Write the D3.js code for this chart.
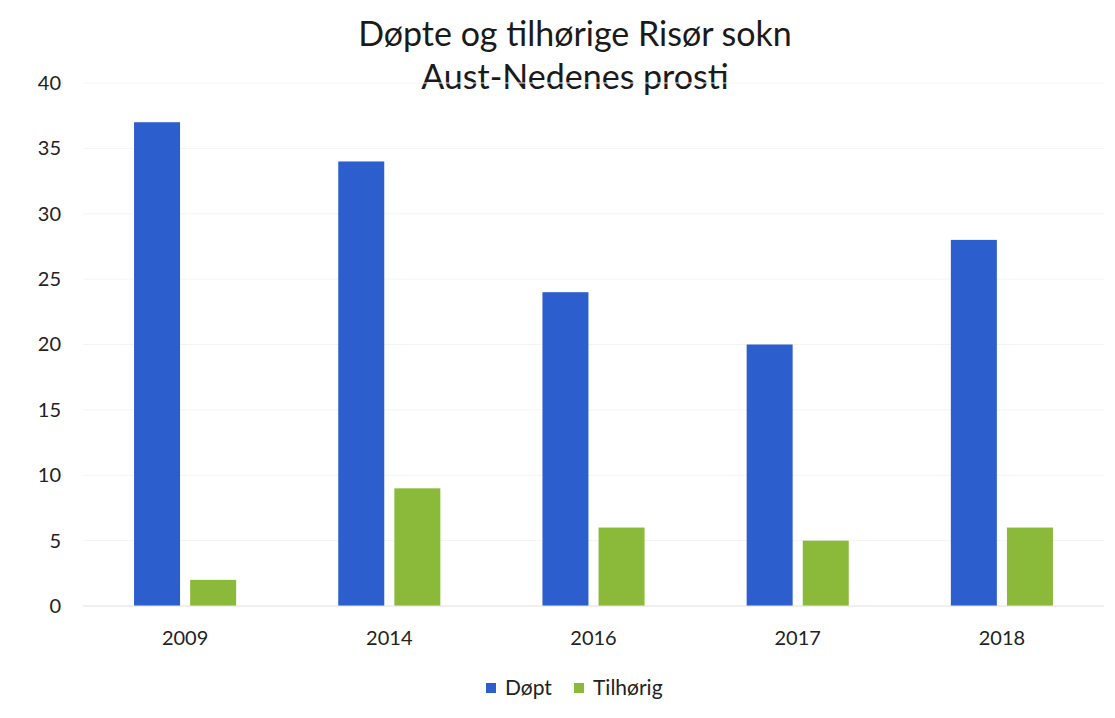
<!DOCTYPE html>
<html>
<head>
<meta charset="utf-8">
<script src="https://cdn.jsdelivr.net/npm/d3@7"></script>
<style>
  body { margin: 0; background: #fff; }
  svg { font-family: Lato, "Open Sans", sans-serif; }
</style>
</head>
<body>
<div id="chart"></div>
<script>
var years = ['2009', '2014', '2016', '2017', '2018'];
var seriesNames = ['Døpt', 'Tilhørig'];
var dopt = [37, 34, 24, 20, 28];
var tilhorig = [2, 9, 6, 5, 6];
var yTicks = [0, 5, 10, 15, 20, 25, 30, 35, 40];
var colors = ['#2c5fcd', '#8bba3b'];

var width = 1115, height = 718;
var plotLeft = 83, plotRight = 1104, plotTop = 83, plotBottom = 606;

var svg = d3.select('#chart').append('svg')
  .attr('width', width).attr('height', height);

var x0 = d3.scaleBand().domain(years).range([plotLeft, plotRight]);
var x1 = d3.scaleBand().domain(seriesNames).range([0, x0.bandwidth()])
  .paddingInner(0.18).paddingOuter(0.91);
var y = d3.scaleLinear().domain([0, 40]).range([plotBottom, plotTop]);

// title
svg.append('text').attr('x', 575).attr('y', 46).attr('text-anchor', 'middle')
  .attr('font-size', 34).attr('fill', '#1a1a1a').text('Døpte og tilhørige Risør sokn');
svg.append('text').attr('x', 575).attr('y', 89).attr('text-anchor', 'middle')
  .attr('font-size', 34).attr('fill', '#1a1a1a').text('Aust-Nedenes prosti');

// gridlines
svg.append('g').selectAll('line').data(yTicks.filter(function(d){ return d > 0; }))
  .enter().append('line')
  .attr('x1', plotLeft).attr('x2', plotRight)
  .attr('y1', function(d){ return y(d); }).attr('y2', function(d){ return y(d); })
  .attr('stroke', '#f4f4f4').attr('stroke-width', 1);

// y axis
var yAxis = svg.append('g').attr('transform', 'translate(61,0)')
  .call(d3.axisLeft(y).tickValues(yTicks).tickSize(0).tickPadding(0));
yAxis.select('.domain').remove();
yAxis.selectAll('text').attr('font-size', 20).attr('fill', '#222')
  .attr('font-family', 'Lato, "Open Sans", sans-serif');

// bars
var rows = years.map(function(yr, i){
  return { year: yr, values: [dopt[i], tilhorig[i]] };
});
var groups = svg.append('g').selectAll('g').data(rows).enter().append('g')
  .attr('transform', function(d){ return 'translate(' + x0(d.year) + ',0)'; });
groups.selectAll('rect').data(function(d){
    return d.values.map(function(v, j){ return { name: seriesNames[j], value: v, i: j }; });
  })
  .enter().append('rect')
  .attr('x', function(d){ return x1(d.name); })
  .attr('width', x1.bandwidth())
  .attr('y', function(d){ return y(d.value); })
  .attr('height', function(d){ return y(0) - y(d.value); })
  .attr('fill', function(d){ return colors[d.i]; });

// baseline
svg.append('line').attr('x1', plotLeft).attr('x2', plotRight)
  .attr('y1', y(0)).attr('y2', y(0))
  .attr('stroke', '#e0e0e0').attr('stroke-width', 1);

// x axis
var xAxis = svg.append('g').attr('transform', 'translate(0,' + plotBottom + ')')
  .call(d3.axisBottom(x0).tickSize(0).tickPadding(25));
xAxis.select('.domain').remove();
xAxis.selectAll('text').attr('font-size', 20).attr('fill', '#222')
  .attr('font-family', 'Lato, "Open Sans", sans-serif');

// legend
var legendX = [486, 574];
var legend = svg.append('g').selectAll('g').data(seriesNames).enter().append('g')
  .attr('transform', function(d, i){ return 'translate(' + legendX[i] + ',683)'; });
legend.append('rect').attr('width', 10).attr('height', 10)
  .attr('fill', function(d, i){ return colors[i]; });
legend.append('text').attr('x', 19).attr('y', 5).attr('dy', '0.35em')
  .attr('font-size', 21).attr('fill', '#222').text(function(d){ return d; });
</script>
</body>
</html>
